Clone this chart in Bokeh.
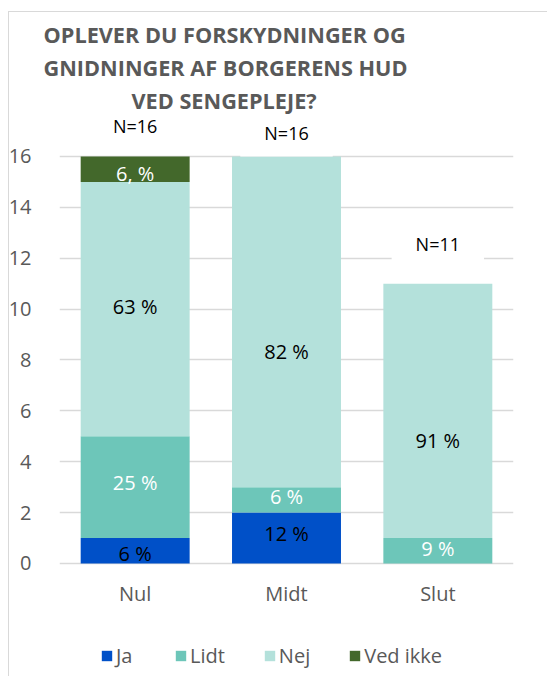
from bokeh.plotting import figure
from bokeh.models import (ColumnDataSource, FactorRange, Range1d, FixedTicker,
                          Legend, LegendItem, Title)
from bokeh.core.properties import value
from bokeh.embed import file_html
from bokeh.resources import INLINE

# ---------------- data ----------------
categories = ["Nul", "Midt", "Slut"]
series = ["Ja", "Lidt", "Nej", "Ved ikke"]
ja = [1, 2, 0]
lidt = [4, 1, 1]
nej = [10, 13, 10]
ved_ikke = [1, 0, 0]
ja_labels = ["6 %", "12 %", ""]
lidt_labels = ["25 %", "6 %", "9 %"]
nej_labels = ["63 %", "82 %", "91 %"]
ved_ikke_labels = ["6, %", "", ""]
n_labels = ["N=16", "N=16", "N=11"]
y_ticks = [0, 2, 4, 6, 8, 10, 12, 14, 16]
title_lines = ["OPLEVER DU FORSKYDNINGER OG",
               "GNIDNINGER AF BORGERENS HUD",
               "VED SENGEPLEJE?"]

# ---------------- style ----------------
colors = ["#0050C8", "#6DC6B9", "#B4E1DB", "#43682B"]
label_colors = ["#000000", "#FFFFFF", "#000000", "#FFFFFF"]
# pixel nudges of the data labels (as placed in the original)
label_nudges = [[3, -5, 0], [-5, -3, -2], [-3, 30, 30], [4, 0, 0]]
n_nudges = [-1, 6, -10]
title_offsets = [-16, -16, 72]
FONT = "Open Sans"
GREY = "#595959"
GRID = "#D9D9D9"

cols = ["ja", "lidt", "nej", "ved_ikke"]
src = ColumnDataSource(dict(cat=categories, ja=ja, lidt=lidt, nej=nej, ved_ikke=ved_ikke))

# plot frame runs from below the title to the bottom of the page; the value
# axis keeps 25.44 px per unit so that 0 sits at y=563 and 16 at y=156
p = figure(x_range=FactorRange(factors=categories, range_padding=0),
           y_range=Range1d(-4.442, 17.61),
           width=547, height=676, output_backend="svg", toolbar_location=None,
           min_border_left=59, min_border_right=34, min_border_top=115,
           min_border_bottom=0)
p.outline_line_color = None
p.background_fill_color = "white"
p.border_fill_color = None
p.styles = {
    "background": "linear-gradient(#D9D9D9, #D9D9D9) 8px 11px / 1px 100% no-repeat, "
                  "linear-gradient(#D9D9D9, #D9D9D9) 8px 11px / 100% 1px no-repeat, white"
}

renderers = p.vbar_stack(cols, x="cat", width=0.72, color=colors, line_color=None, source=src)

# data labels at segment centres
lx, ly, lt, lc, lo = [], [], [], [], []
all_vals = [ja, lidt, nej, ved_ikke]
all_lbls = [ja_labels, lidt_labels, nej_labels, ved_ikke_labels]
for i in range(len(categories)):
    base = 0
    for s in range(len(series)):
        v = all_vals[s][i]
        if all_lbls[s][i]:
            lx.append(categories[i])
            ly.append(base + v / 2)
            lt.append(all_lbls[s][i])
            lc.append(label_colors[s])
            lo.append(label_nudges[s][i])
        base += v
lab_src = ColumnDataSource(dict(x=lx, y=ly, t=lt, c=lc, o=lo))
p.text(x="x", y="y", text="t", text_color="c", y_offset="o", source=lab_src,
       text_align="center", text_baseline="middle", text_font=value(FONT),
       text_font_size="20px")

totals = [a + b + c + d for a, b, c, d in zip(ja, lidt, nej, ved_ikke)]
n_src = ColumnDataSource(dict(x=categories, y=[t + 1.0 for t in totals], t=n_labels, o=n_nudges))
p.text(x="x", y="y", text="t", y_offset="o", source=n_src, text_color="#000000",
       text_align="center", text_baseline="middle", text_font=value(FONT),
       text_font_size="18px", background_fill_color="white",
       padding=dict(left=24, right=24, top=3, bottom=12))

# axes
p.yaxis.ticker = FixedTicker(ticks=y_ticks)
p.ygrid.ticker = FixedTicker(ticks=y_ticks)
p.ygrid.grid_line_color = GRID
p.ygrid.grid_line_width = 1.5
p.xgrid.grid_line_color = None
for ax in (p.xaxis, p.yaxis):
    ax.axis_line_color = None
    ax.major_tick_line_color = None
    ax.minor_tick_line_color = None
    ax.major_label_text_color = GREY
    ax.major_label_text_font = FONT
p.yaxis.major_label_text_font_size = "20px"
p.yaxis.major_label_standoff = 22
p.xaxis.major_label_text_font_size = "20px"
p.xaxis.major_label_standoff = 11
p.xaxis.fixed_location = 0

# title (added bottom line first so it sits closest to the plot)
for line, off in reversed(list(zip(title_lines, title_offsets))):
    p.add_layout(Title(text=line, align="left", offset=off, standoff=2,
                       text_font=FONT, text_font_style="bold", text_font_size="21.7px",
                       text_color=GREY), "above")

legend = Legend(items=[LegendItem(label=s, renderers=[r]) for s, r in zip(series, renderers)],
                location=(41, 7), orientation="horizontal",
                glyph_width=13, glyph_height=13, label_standoff=3, spacing=38,
                label_text_font=FONT, label_text_font_size="20px", label_text_color=GREY,
                border_line_color=None, background_fill_alpha=0, padding=0, margin=0)
p.add_layout(legend)

open("out.html", "w").write(file_html(p, INLINE))
